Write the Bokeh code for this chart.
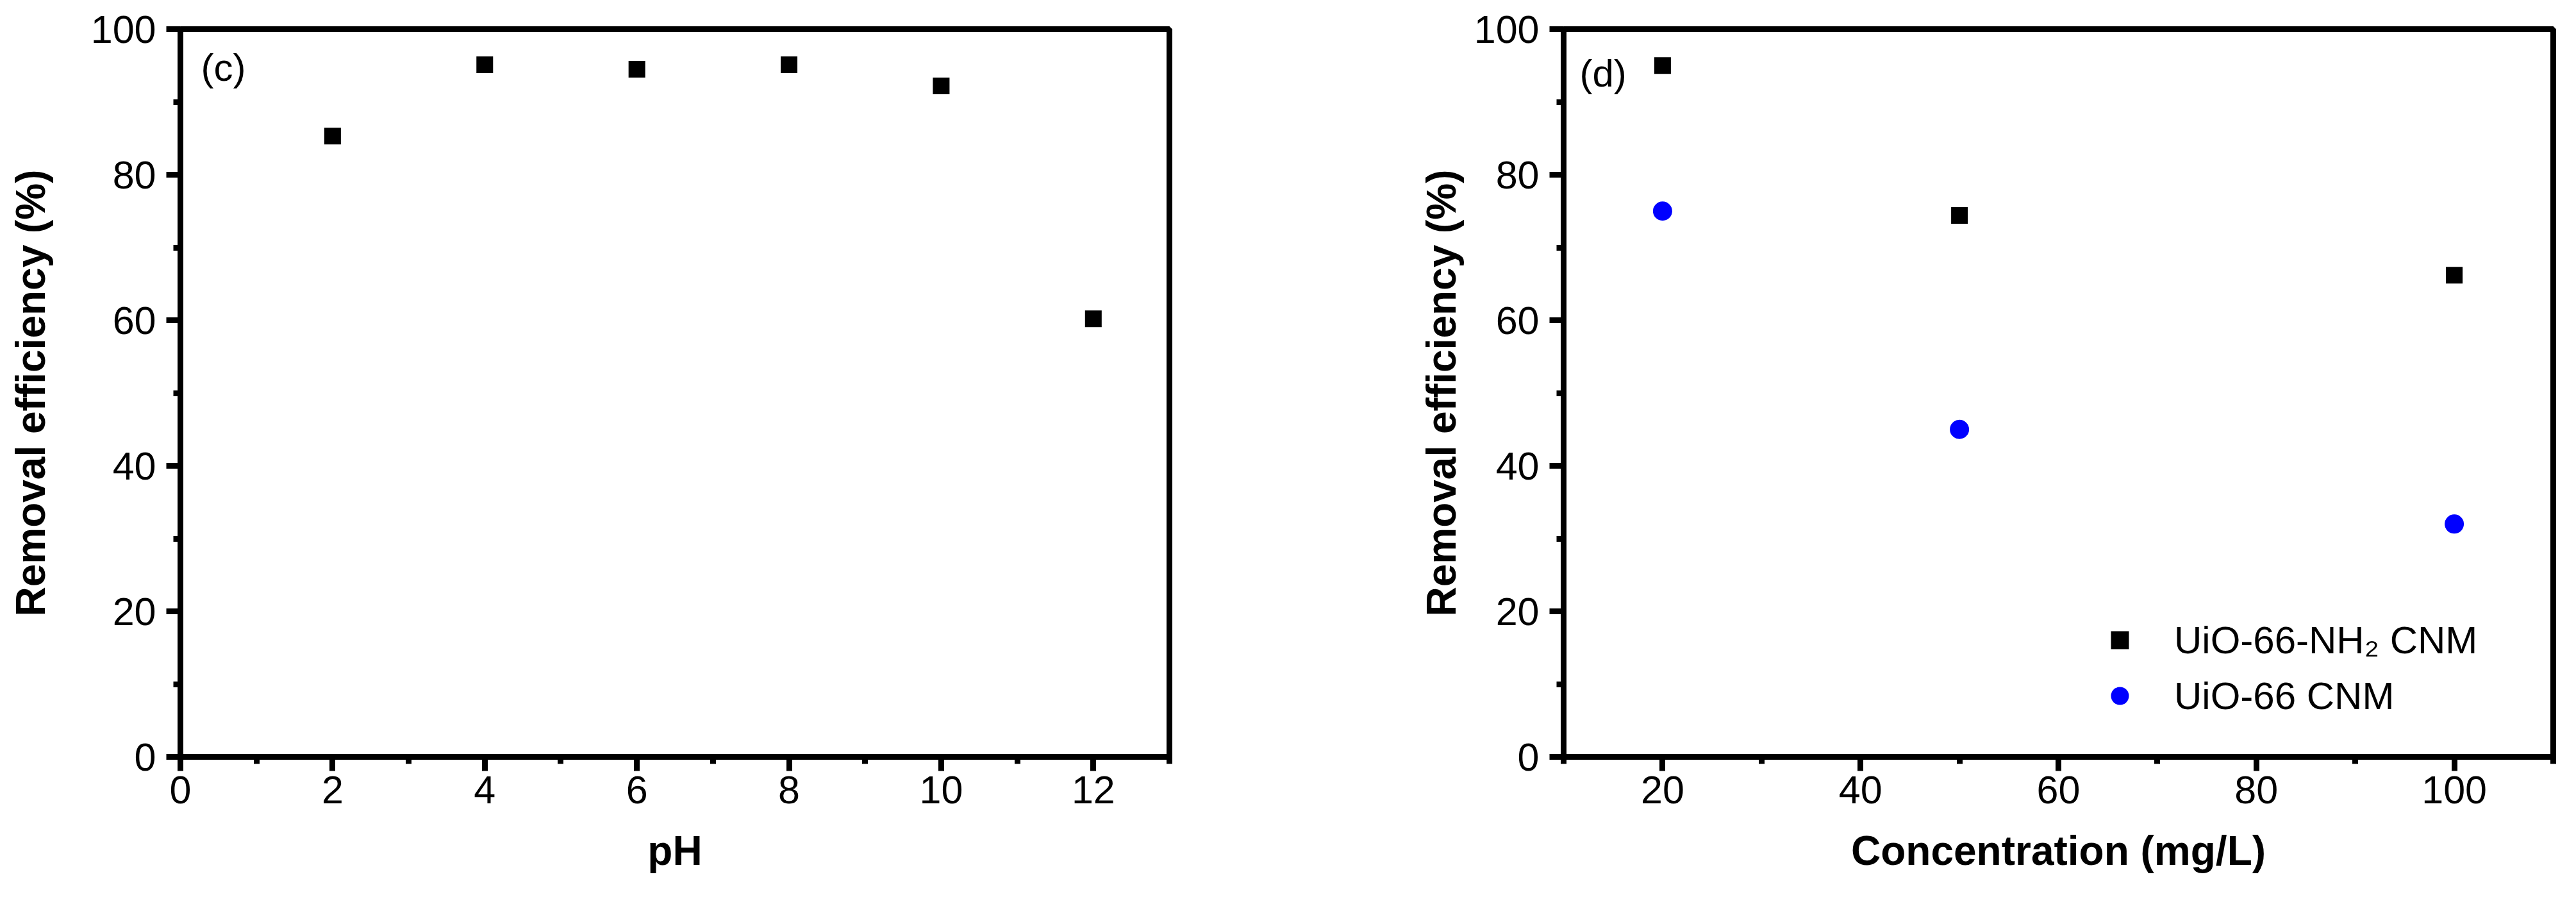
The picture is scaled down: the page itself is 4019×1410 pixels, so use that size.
from bokeh.plotting import figure
from bokeh.models import FixedTicker, Label, Legend, LegendItem
from bokeh.layouts import row
from bokeh.embed import file_html
from bokeh.resources import INLINE

# ---- data ----
ph = [2, 4, 6, 8, 10, 12]
ph_removal = [85.3, 95.1, 94.5, 95.1, 92.2, 60.2]

conc = [20, 50, 100]
nh2_removal = [95.0, 74.4, 66.2]
uio_removal = [75.0, 45.0, 32.0]

ph_ticks = [0, 2, 4, 6, 8, 10, 12]
ph_minor = [1, 3, 5, 7, 9, 11, 13]
conc_ticks = [20, 40, 60, 80, 100]
conc_minor = [10, 30, 50, 70, 90, 110]
y_ticks = [0, 20, 40, 60, 80, 100]
y_minor = [10, 30, 50, 70, 90]

FONT = "Liberation Sans"
LW = 9
FRAME_H = 1135


def style(p, ylabel_standoff):
    p.xgrid.visible = False
    p.ygrid.visible = False
    p.outline_line_color = "black"
    p.outline_line_width = LW
    p.outline_line_alpha = 1
    p.background_fill_color = "white"
    p.border_fill_color = "white"
    for ax in (p.xaxis[0], p.yaxis[0]):
        ax.axis_line_width = LW
        ax.axis_line_color = "black"
        ax.major_tick_line_width = LW
        ax.minor_tick_line_width = LW
        ax.major_tick_line_color = "black"
        ax.minor_tick_line_color = "black"
        ax.major_tick_in = 0
        ax.major_tick_out = 22
        ax.minor_tick_in = 0
        ax.minor_tick_out = 11
        ax.major_label_text_font = FONT
        ax.major_label_text_font_size = "61px"
        ax.major_label_text_color = "black"
        ax.axis_label_text_font = FONT
        ax.axis_label_text_font_size = "64px"
        ax.axis_label_text_font_style = "bold"
        ax.axis_label_text_color = "black"
    p.xaxis.major_label_standoff = 8
    p.xaxis.axis_label_standoff = 35
    p.yaxis.major_label_standoff = 16
    p.yaxis.axis_label_standoff = ylabel_standoff
    p.yaxis.ticker = FixedTicker(ticks=y_ticks, minor_ticks=y_minor)
    p.yaxis.axis_label = "Removal efficiency (%)"


# ---- panel (c) ----
p1 = figure(frame_width=1543, frame_height=FRAME_H, x_range=(0, 13), y_range=(0, 100),
            output_backend="svg", toolbar_location=None,
            min_border_left=281, min_border_right=200, min_border_top=45, min_border_bottom=214)
style(p1, 55)
p1.xaxis.ticker = FixedTicker(ticks=ph_ticks, minor_ticks=ph_minor)
p1.xaxis.axis_label = "pH"
p1.scatter(ph, ph_removal, marker="square", size=26, fill_color="black", line_color="black", line_width=0)
p1.add_layout(Label(x=32, y=FRAME_H - 26, x_units="screen", y_units="screen", text="(c)",
                    text_font=FONT, text_font_size="60px", text_baseline="top", text_color="black"))

# ---- panel (d) ----
p2 = figure(frame_width=1544, frame_height=FRAME_H, x_range=(10, 110), y_range=(0, 100),
            output_backend="svg", toolbar_location=None,
            min_border_left=415, min_border_right=20, min_border_top=45, min_border_bottom=214)
style(p2, 12)
p2.xaxis.ticker = FixedTicker(ticks=conc_ticks, minor_ticks=conc_minor)
p2.xaxis.axis_label = "Concentration (mg/L)"
r1 = p2.scatter(conc, nh2_removal, marker="square", size=26, fill_color="black", line_color="black", line_width=0)
r2 = p2.scatter(conc, uio_removal, marker="circle", size=30, fill_color="#0000FF", line_color="#0000FF", line_width=0)
p2.add_layout(Label(x=25, y=FRAME_H - 35, x_units="screen", y_units="screen", text="(d)",
                    text_font=FONT, text_font_size="60px", text_baseline="top", text_color="black"))

legend = Legend(items=[LegendItem(label="UiO-66-NH\u2082 CNM", renderers=[r1]),
                       LegendItem(label="UiO-66 CNM", renderers=[r2])],
                location=(823, 50), glyph_width=70, glyph_height=70, label_standoff=50,
                spacing=17, padding=10, margin=0, border_line_alpha=0, background_fill_alpha=0,
                label_text_font=FONT, label_text_font_size="60px", label_text_color="black")
p2.add_layout(legend)

layout = row(p1, p2)
open("out.html", "w").write(file_html(layout, INLINE))
